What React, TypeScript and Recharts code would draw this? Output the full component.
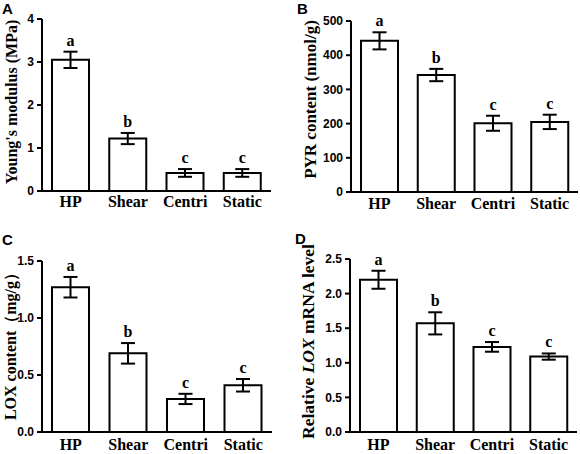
import React from 'react';
import { BarChart, Bar, XAxis, YAxis, ErrorBar, Label } from 'recharts';

const categories = ['HP', 'Shear', 'Centri', 'Static'];
const sigLetters = ['a', 'b', 'c', 'c'];

const youngValues = [3.05, 1.22, 0.42, 0.42];
const youngErrors = [0.19, 0.13, 0.09, 0.09];
const youngTicks = [0, 1, 2, 3, 4];

const pyrValues = [442, 342, 201, 205];
const pyrErrors = [25, 18, 22, 21];
const pyrTicks = [0, 100, 200, 300, 400, 500];

const loxValues = [1.27, 0.69, 0.29, 0.41];
const loxErrors = [0.09, 0.09, 0.045, 0.055];
const loxTicks = [0, 0.5, 1.0, 1.5];

const mrnaValues = [2.2, 1.57, 1.23, 1.09];
const mrnaErrors = [0.13, 0.16, 0.07, 0.045];
const mrnaTicks = [0, 0.5, 1.0, 1.5, 2.0, 2.5];

const SERIF = '"Liberation Serif", "Times New Roman", serif';
const SANS = '"Liberation Sans", Arial, sans-serif';

const makeSigLabel = (errors: number[]) => (props: any) => {
  const x = Number(props.x);
  const y = Number(props.y);
  const width = Number(props.width);
  const height = Number(props.height);
  const value = Number(props.value);
  const index = props.index;
  const perUnit = value ? height / value : 0;
  const top = y - errors[index] * perUnit;
  return (
    <text
      x={x + width / 2}
      y={top - 6}
      textAnchor="middle"
      fontFamily={SERIF}
      fontWeight="bold"
      fontSize={16}
      fill="#000"
    >
      {sigLetters[index]}
    </text>
  );
};

const makeYLabel = (content: React.ReactNode, fontSize: number, dx: number, dy: number) => (props: any) => {
  const vb = props.viewBox || {};
  const cx = Number(vb.x) + dx;
  const cy = Number(vb.y) + Number(vb.height) / 2 + dy;
  return (
    <text
      x={cx}
      y={cy}
      transform={`rotate(-90 ${cx} ${cy})`}
      textAnchor="middle"
      dominantBaseline="central"
      fontFamily={SERIF}
      fontWeight="bold"
      fontSize={fontSize}
      fill="#000"
    >
      {content}
    </text>
  );
};

type PanelProps = {
  letter: string;
  left: number;
  top: number;
  letterX: number;
  letterY: number;
  values: number[];
  errors: number[];
  ticks: number[];
  decimals: number;
  yLabel: React.ReactNode;
  yLabelSize: number;
  yLabelDx: number;
  yLabelDy: number;
  yAxisWidth: number;
  margin: { top: number; right: number; bottom: number; left: number };
  xAxisHeight: number;
  xTickMargin: number;
};

const Panel = (p: PanelProps) => {
  const data = categories.map((name, i) => ({ name, value: p.values[i], err: p.errors[i] }));
  return (
    <div style={{ position: 'absolute', left: p.left, top: p.top, width: 290, height: 227 }}>
      <BarChart width={290} height={227} data={data} margin={p.margin}>
        <XAxis
          dataKey="name"
          tickLine={false}
          axisLine={{ stroke: '#000', strokeWidth: 2 }}
          tickSize={0}
          tickMargin={p.xTickMargin}
          height={p.xAxisHeight}
          interval={0}
          tick={{ fontFamily: SERIF, fontWeight: 'bold', fontSize: 16, fill: '#000' }}
        />
        <YAxis
          type="number"
          domain={[p.ticks[0], p.ticks[p.ticks.length - 1]]}
          ticks={p.ticks}
          interval={0}
          width={p.yAxisWidth}
          axisLine={{ stroke: '#000', strokeWidth: 2 }}
          tickLine={{ stroke: '#000', strokeWidth: 2 }}
          tickSize={5}
          tickMargin={3}
          tickFormatter={(v: number) => v.toFixed(p.decimals)}
          tick={{ fontFamily: SANS, fontWeight: 'bold', fontSize: 12, fill: '#000' }}
        >
          <Label content={makeYLabel(p.yLabel, p.yLabelSize, p.yLabelDx, p.yLabelDy)} />
        </YAxis>
        <Bar
          dataKey="value"
          fill="#fff"
          stroke="#000"
          strokeWidth={2}
          barSize={37}
          isAnimationActive={false}
          label={makeSigLabel(p.errors)}
        >
          <ErrorBar dataKey="err" width={7} stroke="#000" strokeWidth={2} direction="y" />
        </Bar>
      </BarChart>
      <div
        style={{
          position: 'absolute',
          left: p.letterX,
          top: p.letterY,
          fontFamily: SANS,
          fontWeight: 'bold',
          fontSize: 15,
          lineHeight: '15px',
          color: '#000',
        }}
      >
        {p.letter}
      </div>
    </div>
  );
};

export default function App() {
  return (
    <div
      style={{
        position: 'absolute',
        left: 0,
        top: 0,
        width: 580,
        height: 454,
        background: '#fff',
        overflow: 'hidden',
      }}
    >
      <Panel
        letter="A"
        left={0}
        top={0}
        letterX={2}
        letterY={1}
        values={youngValues}
        errors={youngErrors}
        ticks={youngTicks}
        decimals={0}
        yLabel="Young's modulus (MPa)"
        yLabelSize={16}
        yLabelDx={11}
        yLabelDy={-3}
        yAxisWidth={42}
        margin={{ top: 19, right: 19, bottom: 6, left: 0 }}
        xAxisHeight={30}
        xTickMargin={5}
      />
      <Panel
        letter="B"
        left={290}
        top={0}
        letterX={7}
        letterY={1}
        values={pyrValues}
        errors={pyrErrors}
        ticks={pyrTicks}
        decimals={0}
        yLabel="PYR content (nmol/g)"
        yLabelSize={17}
        yLabelDx={20}
        yLabelDy={-7}
        yAxisWidth={61}
        margin={{ top: 21, right: 2, bottom: 5, left: 0 }}
        xAxisHeight={30}
        xTickMargin={6}
      />
      <Panel
        letter="C"
        left={0}
        top={227}
        letterX={2}
        letterY={5}
        values={loxValues}
        errors={loxErrors}
        ticks={loxTicks}
        decimals={1}
        yLabel="LOX content（mg/g）"
        yLabelSize={16}
        yLabelDx={10}
        yLabelDy={-4}
        yAxisWidth={42}
        margin={{ top: 34, right: 18, bottom: 2, left: 0 }}
        xAxisHeight={20}
        xTickMargin={7}
      />
      <Panel
        letter="D"
        left={290}
        top={227}
        letterX={5}
        letterY={4}
        values={mrnaValues}
        errors={mrnaErrors}
        ticks={mrnaTicks}
        decimals={1}
        yLabel={
          <>
            <tspan>Relative </tspan>
            <tspan fontStyle="italic">LOX</tspan>
            <tspan> mRNA level</tspan>
          </>
        }
        yLabelSize={17.5}
        yLabelDx={18}
        yLabelDy={-4}
        yAxisWidth={60}
        margin={{ top: 32, right: 3, bottom: 2, left: 0 }}
        xAxisHeight={20}
        xTickMargin={7}
      />
    </div>
  );
}
